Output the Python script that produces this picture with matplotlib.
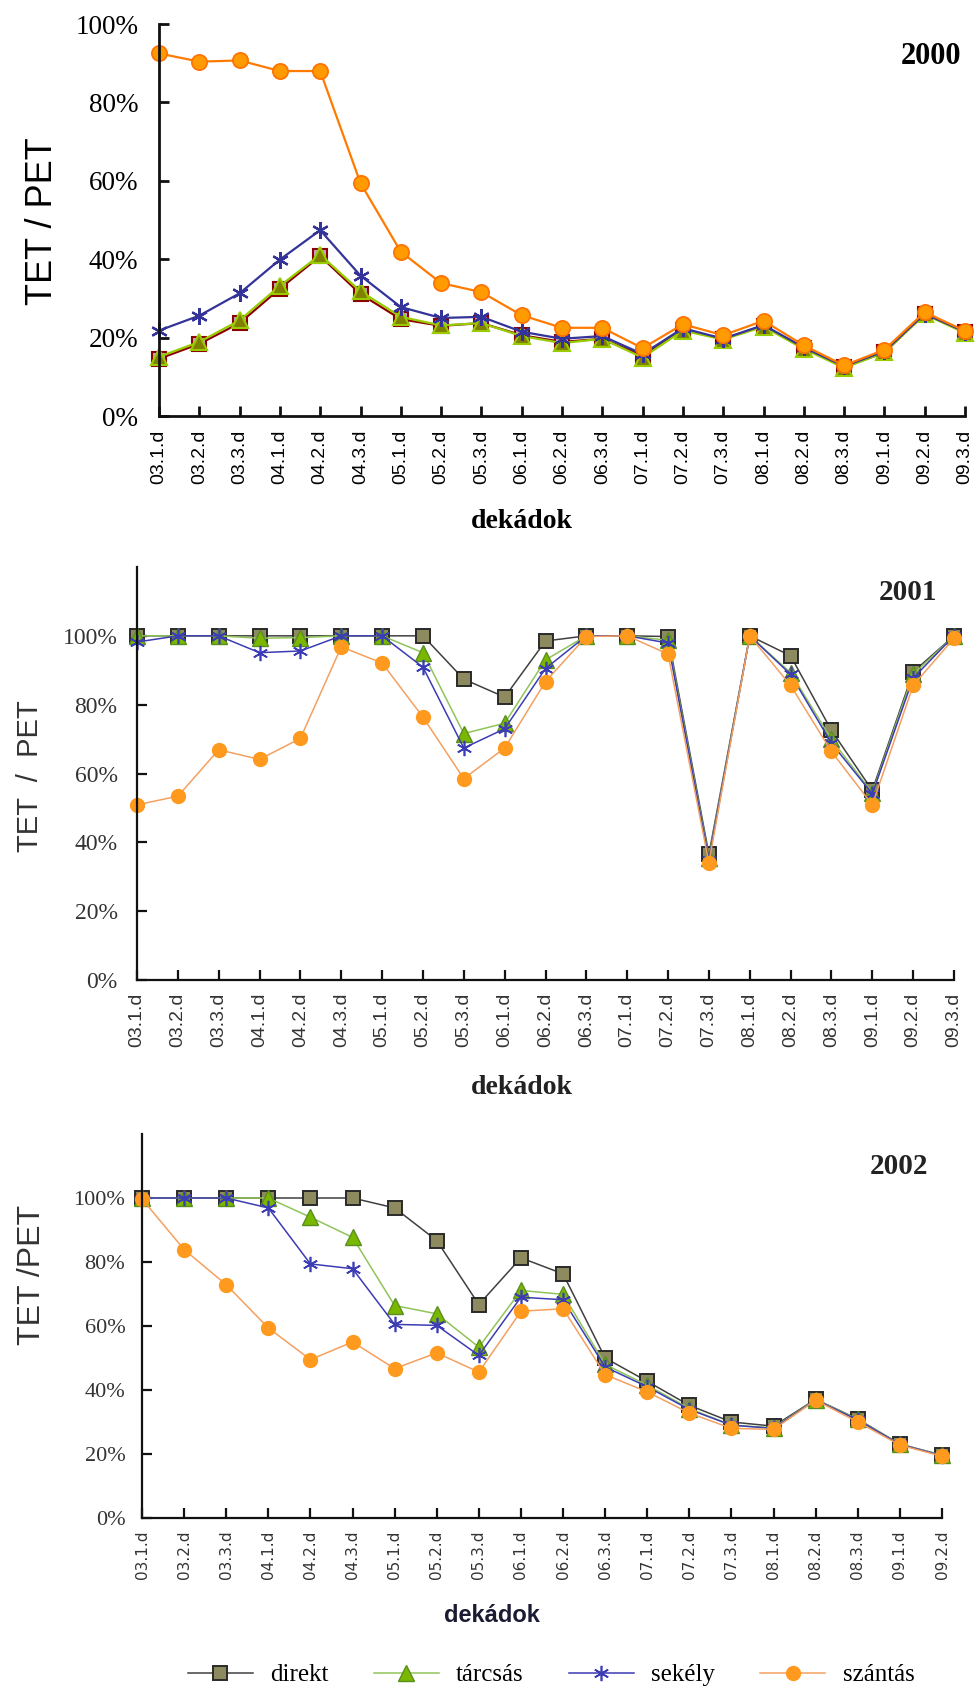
import matplotlib
matplotlib.use("Agg")
import matplotlib.pyplot as plt
from matplotlib.lines import Line2D

# ---------------- data ----------------
dekads_full = ["03.1.d", "03.2.d", "03.3.d", "04.1.d", "04.2.d", "04.3.d", "05.1.d",
               "05.2.d", "05.3.d", "06.1.d", "06.2.d", "06.3.d", "07.1.d", "07.2.d",
               "07.3.d", "08.1.d", "08.2.d", "08.3.d", "09.1.d", "09.2.d", "09.3.d"]
dekads_2002 = dekads_full[:-1]

series_names = ["direkt", "tárcsás", "sekély", "szántás"]

direkt_2000 = [14.6, 18.4, 23.7, 32.5, 40.8, 31.1, 24.7, 23.0, 23.7, 20.6, 18.9, 19.7, 15.4,
               21.9, 19.7, 23.0, 17.4, 12.5, 16.2, 26.1, 21.4]
tarcsas_2000 = [15.1, 18.9, 24.4, 33.2, 41.1, 31.8, 25.3, 23.1, 23.7, 20.4, 18.6, 19.7, 14.9,
                21.8, 19.5, 22.8, 17.1, 12.3, 16.2, 25.9, 21.2]
sekely_2000 = [21.8, 25.6, 31.3, 39.9, 47.4, 35.8, 27.8, 25.0, 25.3, 21.5, 19.7, 20.4, 15.8,
               22.4, 19.7, 23.2, 17.5, 12.7, 16.5, 26.1, 21.5]
szantas_2000 = [92.5, 90.4, 90.7, 88.0, 88.0, 59.4, 41.9, 33.9, 31.6, 25.7, 22.5, 22.5, 17.3,
                23.4, 20.6, 24.3, 18.0, 12.9, 16.9, 26.5, 21.7]

direkt_2001 = [100, 100, 100, 100, 100, 100, 100, 100, 87.4, 82.2, 98.5, 100, 100, 99.8,
               36.5, 100, 94.2, 72.5, 55.1, 89.5, 100]
tarcsas_2001 = [100, 100, 100, 99.3, 99.5, 100, 100, 95.1, 71.6, 74.6, 93.0, 100, 100, 98.7,
                35.5, 100, 89.3, 69.9, 54.4, 88.8, 100]
sekely_2001 = [98.2, 100, 100, 95.1, 95.6, 100, 100, 90.9, 67.4, 73.0, 90.5, 100, 100, 97.9,
               35.0, 100, 88.8, 68.8, 54.1, 87.7, 100]
szantas_2001 = [50.9, 53.4, 66.9, 64.1, 70.2, 96.8, 92.1, 76.4, 58.5, 67.4, 86.7, 99.8, 100,
                94.7, 34.1, 100, 85.6, 66.4, 50.9, 85.6, 99.3]

direkt_2002 = [100, 100, 100, 100, 100, 100, 96.9, 86.7, 66.7, 81.3, 76.3, 50.0, 42.7, 35.2,
               30.0, 28.7, 37.1, 30.9, 23.1, 19.6]
tarcsas_2002 = [100, 100, 100, 100, 94.0, 87.7, 66.4, 63.8, 53.4, 71.1, 69.9, 48.0, 41.5,
                34.2, 29.0, 28.2, 37.0, 30.8, 23.1, 19.6]
sekely_2002 = [100, 100, 100, 96.9, 79.4, 77.9, 60.5, 60.2, 50.8, 69.0, 68.2, 47.2, 41.0,
               33.9, 29.0, 28.0, 36.9, 30.6, 23.0, 19.5]
szantas_2002 = [99.7, 83.9, 72.9, 59.4, 49.5, 55.0, 46.7, 51.6, 45.6, 64.6, 65.4, 44.8, 39.4,
                32.8, 28.0, 27.7, 36.8, 30.0, 22.8, 19.3]

yticks = [0, 20, 40, 60, 80, 100]
ytick_labels = ["0%", "20%", "40%", "60%", "80%", "100%"]

# ---------------- layout helpers ----------------
W, H = 980, 1695
fig = plt.figure(figsize=(W / 100, H / 100), dpi=100)
fig.patch.set_facecolor("white")


def fx(px):
    return px / W


def fy(py):
    return 1 - py / H


def make_axes(left, right, top, bottom):
    return fig.add_axes([fx(left), fy(bottom), (right - left) / W, (bottom - top) / H])


SERIF = "Liberation Serif"
SANS = "Liberation Sans"

# styles for 2000 chart
style_2000 = [
    dict(color="#8b0000", marker="s", ms=10, mfc="#c9a0d0", mec="#8b0000", mew=1.5, lw=1.6),
    dict(color="#99cc00", marker="^", ms=11, mfc="#808000", mec="#99cc00", mew=1.5, lw=1.6),
    dict(color="#333399", marker=(6, 2, 0), ms=12, mfc="#333399", mec="#333399", mew=1.6, lw=1.6),
    dict(color="#ff7a00", marker="o", ms=11, mfc="#ff9a00", mec="#ff7000", mew=1.2, lw=1.6),
]
# styles for 2001/2002 charts
style_b = [
    dict(color="#404040", marker="s", ms=10, mfc="#8c8a5e", mec="#2a2a2a", mew=1.4, lw=1.1),
    dict(color="#8fc45a", marker="^", ms=11, mfc="#7ab800", mec="#5a8f20", mew=1.0, lw=1.1),
    dict(color="#3c3cb4", marker=(6, 2, 0), ms=11, mfc="#3c3cb4", mec="#3c3cb4", mew=1.2, lw=1.1),
    dict(color="#f4a060", marker="o", ms=10, mfc="#ff9a1f", mec="#ff9a1f", mew=1.0, lw=1.1),
]


def draw_chart(ax, labels, data, styles, ylim_top, xtick_font, xtick_size, xtick_color,
               ytick_size, ytick_color, ypad, xpad, axis_lw):
    x = list(range(len(labels)))
    for vals, st, name in zip(data, styles, series_names):
        ax.plot(x, vals, label=name, clip_on=False, **st)
    ax.set_xlim(0, len(labels) - 1)
    ax.set_ylim(0, ylim_top)
    ax.set_xticks(x)
    ax.set_xticklabels(labels, rotation=90)
    ax.set_yticks(yticks)
    ax.set_yticklabels(ytick_labels)
    for s in ["top", "right"]:
        ax.spines[s].set_visible(False)
    for s in ["left", "bottom"]:
        ax.spines[s].set_linewidth(axis_lw)
        ax.spines[s].set_color("#111111")
    ax.tick_params(axis="both", direction="in", length=7, width=axis_lw, color="#111111")
    ax.tick_params(axis="y", pad=ypad)
    ax.tick_params(axis="x", pad=xpad)
    for t in ax.get_xticklabels():
        t.set_fontfamily(xtick_font)
        t.set_fontsize(xtick_size)
        t.set_color(xtick_color)
    for t in ax.get_yticklabels():
        t.set_fontfamily(SERIF)
        t.set_fontsize(ytick_size)
        t.set_color(ytick_color)
    ax.set_facecolor("none")


# ---------------- 2000 ----------------
ax1 = make_axes(159, 965, 24, 416)
draw_chart(ax1, dekads_full, [direkt_2000, tarcsas_2000, sekely_2000, szantas_2000], style_2000,
           100, SANS, 14, "black", 19.5, "black", 15, 10, 2.0)
fig.text(fx(43), fy(221), "TET / PET", rotation=90, ha="center", va="center",
         fontfamily=SANS, fontsize=26, color="black")
fig.text(fx(522), fy(521), "dekádok", ha="center", va="center", fontfamily=SERIF,
         fontsize=20, fontweight="bold", color="black")
fig.text(fx(931), fy(56), "2000", ha="center", va="center", fontfamily=SERIF,
         fontsize=22, fontweight="bold", color="black")

# ---------------- 2001 ----------------
ax2 = make_axes(137, 954, 567, 980)
draw_chart(ax2, dekads_full, [direkt_2001, tarcsas_2001, sekely_2001, szantas_2001], style_b,
           120, SANS, 14, "#333333", 17, "#333333", 14, 9, 1.6)
fig.text(fx(30), fy(776), "TET  /  PET", rotation=90, ha="center", va="center",
         fontfamily=SANS, fontsize=21, color="#333333")
fig.text(fx(522), fy(1088), "dekádok", ha="center", va="center", fontfamily=SERIF,
         fontsize=20, fontweight="bold", color="#222222")
fig.text(fx(908), fy(592), "2001", ha="center", va="center", fontfamily=SERIF,
         fontsize=21, fontweight="bold", color="#222222")

# ---------------- 2002 ----------------
ax3 = make_axes(142, 942, 1134, 1518)
draw_chart(ax3, dekads_2002, [direkt_2002, tarcsas_2002, sekely_2002, szantas_2002], style_b,
           120, "DejaVu Sans", 11, "#333333", 16, "#333333", 12, 9, 1.6)
fig.text(fx(32), fy(1275), "TET /PET", rotation=90, ha="center", va="center",
         fontfamily=SANS, fontsize=23, color="#333333")
fig.text(fx(492), fy(1615), "dekádok", ha="center", va="center", fontfamily=SANS,
         fontsize=17, fontweight="bold", color="#1a1a33")
fig.text(fx(899), fy(1167), "2002", ha="center", va="center", fontfamily=SERIF,
         fontsize=21, fontweight="bold", color="#222222")

# ---------------- legend ----------------
handles = [Line2D([0], [0], **st) for st in style_b]
leg = fig.legend(handles, series_names, loc="center", bbox_to_anchor=(fx(551), fy(1675)),
                 ncol=4, frameon=False, handlelength=2.6, columnspacing=1.8, handletextpad=0.7,
                 prop={"family": SERIF, "size": 18})

fig.savefig("out.png", dpi=100, facecolor="white")
